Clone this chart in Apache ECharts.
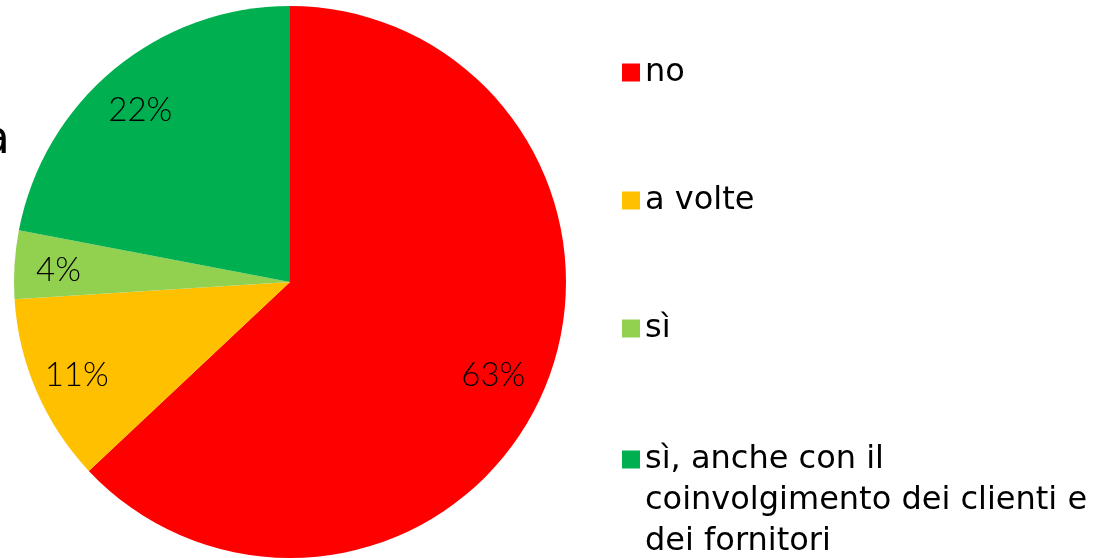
<!DOCTYPE html>
<html>
<head>
<meta charset="utf-8">
<script src="https://cdn.jsdelivr.net/npm/echarts@6/dist/echarts.min.js"></script>
<style>
  html, body { margin: 0; padding: 0; background: #fff; }
  #chart { width: 1117px; height: 558px; }
</style>
</head>
<body>
<div id="chart"></div>
<script>
const categories = ['no', 'a volte', 'sì', 'sì, anche con il\ncoinvolgimento dei clienti e\ndei fornitori'];
const values = [63, 11, 4, 22];
const colors = ['#FF0000', '#FFC000', '#92D050', '#00B050'];

const labelFont = 'Lato, sans-serif';
const legendFont = '"DejaVu Sans", sans-serif';
const chart = echarts.init(document.getElementById('chart'), null, { renderer: 'canvas' });

const pieData = categories.map((name, i) => ({
  name: name,
  value: values[i],
  itemStyle: { color: colors[i] }
}));

const legendText = {
  fontFamily: legendFont,
  fontSize: 32,
  lineHeight: 41,
  color: '#000'
};

chart.setOption({
  backgroundColor: '#fff',
  animation: false,
  legend: [
    {
      data: categories.slice(0, 3),
      orient: 'vertical',
      left: 617,
      top: 47,
      itemWidth: 18,
      itemHeight: 18,
      itemGap: 87,
      icon: 'rect',
      selectedMode: false,
      textStyle: legendText
    },
    {
      // two empty lines on top keep the marker level with the first text line
      data: categories.slice(3),
      orient: 'vertical',
      left: 617,
      top: 352,
      itemWidth: 18,
      itemHeight: 18,
      icon: 'rect',
      selectedMode: false,
      formatter: name => '\n\n' + name,
      textStyle: legendText
    }
  ],
  graphic: [{
    type: 'text',
    right: 1107,
    top: 118,
    style: { text: 'a', fontFamily: legendFont, fontSize: 46, fill: '#000' }
  }],
  series: [
    {
      type: 'pie',
      center: [290, 282],
      radius: 276,
      startAngle: 90,
      clockwise: true,
      label: { show: false },
      labelLine: { show: false },
      emphasis: { disabled: true },
      data: pieData
    },
    {
      // transparent ring just to place the percentage labels near the rim
      type: 'pie',
      center: [290, 282],
      radius: [172, 276],
      startAngle: 90,
      clockwise: true,
      silent: true,
      legendHoverLink: false,
      itemStyle: { color: 'transparent' },
      label: {
        show: true,
        position: 'inside',
        formatter: '{c}%',
        fontFamily: labelFont,
        fontWeight: 300,
        fontSize: 33,
        color: '#000',
        offset: [-5, 3]
      },
      labelLine: { show: false },
      emphasis: { disabled: true },
      data: categories.map((name, i) => ({ name: name, value: values[i] }))
    }
  ]
});
</script>
</body>
</html>
